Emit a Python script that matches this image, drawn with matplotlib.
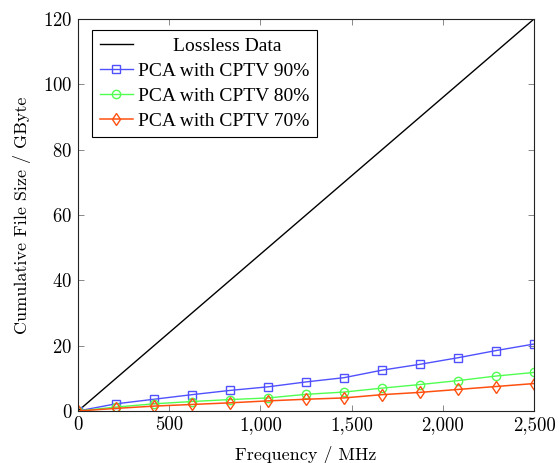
import matplotlib
matplotlib.use("Agg")
import matplotlib.pyplot as plt
from matplotlib.ticker import FuncFormatter

freq = [0, 208.3, 416.7, 625, 833.3, 1041.7, 1250, 1458.3, 1666.7, 1875, 2083.3, 2291.7, 2500]
lossless_x = [0, 2500]
lossless_y = [0, 120]
cptv90 = [0, 2.2, 3.6, 5.0, 6.3, 7.4, 8.9, 10.2, 12.5, 14.3, 16.3, 18.5, 20.5]
cptv80 = [0, 1.2, 2.2, 2.9, 3.5, 4.0, 5.1, 5.8, 7.0, 8.1, 9.3, 10.7, 11.8]
cptv70 = [0, 0.8, 1.5, 2.0, 2.5, 3.1, 3.6, 4.0, 5.0, 5.7, 6.6, 7.5, 8.4]
labels = ["Lossless Data", "PCA with CPTV 90%", "PCA with CPTV 80%", "PCA with CPTV 70%"]
xticks = [0, 500, 1000, 1500, 2000, 2500]
yticks = [0, 20, 40, 60, 80, 100, 120]

plt.rcParams['font.family'] = ['cmr10', 'DejaVu Serif']
plt.rcParams['axes.formatter.use_mathtext'] = True

fig = plt.figure(figsize=(5.6, 4.63), dpi=100)
ax = fig.add_axes([78/560, 1-411/463, (534-78)/560, (411-19)/463])

ax.plot(lossless_x, lossless_y, color='black', lw=1.0, label=labels[0])
ax.plot(freq, cptv90, color='#5050ff', lw=1.0, marker='s', ms=6, mfc='none', mew=1.0, label=labels[1])
ax.plot(freq, cptv80, color='#50ff50', lw=1.0, marker='o', ms=6, mfc='none', mew=1.0, label=labels[2])
ax.plot(freq, cptv70, color='#ff5010', lw=1.1, marker='d', ms=6, mfc='none', mew=1.0, label=labels[3])

ax.set_xlim(0, 2500)
ax.set_ylim(0, 120)
ax.set_xticks(xticks)
ax.set_yticks(yticks)
ax.xaxis.set_major_formatter(FuncFormatter(lambda v, p: f"{int(v):,}"))
ax.tick_params(direction='in', top=True, right=True, length=4, width=0.7, color='#888888',
               labelsize=13.5, pad=4)
for s in ax.spines.values():
    s.set_linewidth(0.8)
    s.set_color('#222222')

ax.set_xlabel("Frequency / MHz", fontsize=13, labelpad=8)
ax.set_ylabel("Cumulative File Size / GByte", fontsize=13, labelpad=9)

leg = ax.legend(loc='upper left', bbox_to_anchor=(0.031, 0.972), fancybox=False, edgecolor='black',
                framealpha=1, prop={'family': 'Liberation Serif', 'size': 14},
                handlelength=1.7, borderpad=0.38, labelspacing=0.38, handletextpad=0.3,
                borderaxespad=0)
leg.get_frame().set_linewidth(0.8)
leg.texts[0].set_x(35)

fig.savefig("out.png", dpi=100)
